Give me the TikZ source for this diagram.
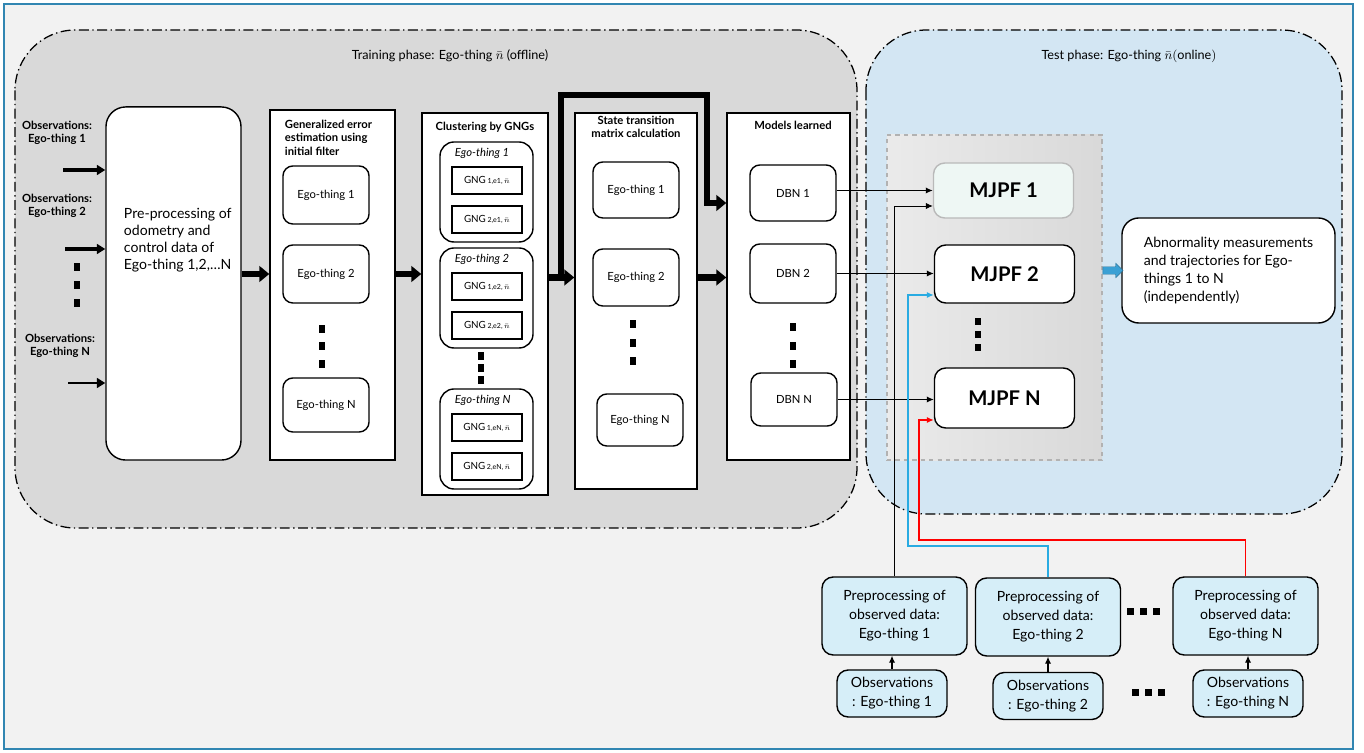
\documentclass[tikz,border=0pt]{standalone}
\usepackage{fontspec}
\setmainfont{Lato}
\usetikzlibrary{positioning,arrows.meta,shapes.arrows}
\definecolor{frameblue}{RGB}{49,134,178}
\definecolor{outerfill}{RGB}{242,242,242}
\definecolor{trainfill}{RGB}{217,217,217}
\definecolor{testfill}{RGB}{211,230,243}
\definecolor{obsfill}{RGB}{214,238,248}
\definecolor{mintfill}{RGB}{238,247,244}
\definecolor{linkcyan}{RGB}{41,171,226}
\definecolor{arrowblue}{RGB}{58,160,212}

\begin{document}
\begin{tikzpicture}[x=0.025cm,y=-0.025cm,
  phase/.style={line width=0.9pt,dash pattern=on 7pt off 2.5pt on 1pt off 2.5pt,rounded corners=43pt},
  column/.style={draw,line width=1pt,fill=white,inner sep=0pt},
  rbox/.style={draw,line width=1pt,fill=white,rounded corners=7pt,inner sep=0pt,minimum width=2.15cm,font=\footnotesize},
  group/.style={draw,line width=1pt,rounded corners=10pt,inner sep=0pt,minimum width=2.325cm,minimum height=2.5cm},
  gng/.style={draw,line width=1pt,inner sep=0pt,minimum width=1.75cm,minimum height=0.675cm,font=\scriptsize},
  title/.style={font=\footnotesize\bfseries,align=center},
  bigarrow/.style={line width=4.5pt,-{Triangle[length=7pt,width=11pt]}},
  inarrow/.style={line width=2.2pt,-{Triangle[length=6pt,width=7pt]}},
  thin/.style={line width=0.8pt,-{Latex[length=5pt,width=4.5pt]}},
  mjpf/.style={draw,line width=1pt,fill=white,rounded corners=8pt,inner sep=0pt,minimum width=3.5cm,font=\Large\bfseries},
  obsbox/.style={draw,line width=1pt,fill=obsfill,rounded corners=8pt,inner sep=0pt,align=center,font=\fontsize{10}{13.5}\selectfont}
]
\useasboundingbox (0,0) rectangle (1364,753);
\draw[frameblue,line width=1.5pt,fill=outerfill] (4,4) rectangle (1353,749);

% the two phases
\draw[phase,fill=trainfill] (15,30) rectangle (857,528);
\draw[phase,fill=testfill] (866,30) rectangle (1342,514);
\node (trainTitle) at (450,56) {\small Training phase: Ego-thing $\bar{n}$ (offline)};
\node (testTitle) at (1129,56) {\small Test phase: Ego-thing $\bar{n}(\mathrm{online})$};

% inputs
\node[title] (obs1) at (57,133) {Observations:\\Ego-thing 1};
\node[title] (obs2) at (57,206) {Observations:\\Ego-thing 2};
\node[title] (obsN) at (60,346) {Observations:\\Ego-thing N};
\node[draw,line width=1pt,fill=white,rounded corners=14pt,minimum width=3.375cm,minimum height=8.825cm] (prep) at (173.5,283.5) {};
\node[align=left,anchor=west] (prepText) at (119,240) {Pre-processing of\\odometry and\\control data of\\Ego-thing 1,2,\dots N};
\coordinate (in1) at (63,170);
\coordinate (in2) at (65,249);
\coordinate (inN) at (68,383);
\draw[inarrow] (in1) -- (in1 -| prep.west);
\draw[inarrow] (in2) -- (in2 -| prep.west);
\draw[inarrow,line width=1.6pt] (inN) -- (inN -| prep.west);
\foreach \y in {267,285,303}
  \fill (74,\y-4) rectangle (80,\y+4);

% generalized error
\node[column,minimum width=3.125cm,minimum height=8.75cm] (errCol) at (332.5,285) {};
\node[title,align=left,anchor=north west] (errTitle) at (280,115) {Generalized error\\estimation using\\initial filter};
\node[rbox,minimum height=1.45cm] (err1) at (326,195) {Ego-thing 1};
\node[rbox,minimum height=1.45cm] (err2) at (326,274) {Ego-thing 2};
\node[rbox,minimum height=1.35cm] (errN) at (326,405) {Ego-thing N};
\foreach \y in {329,346,364}
  \fill (319,\y-4) rectangle (325,\y+4);

% clustering
\node[column,minimum width=3.15cm,minimum height=9.55cm] (gngCol) at (485,304) {};
\node[title] (gngTitle) at (485,127) {Clustering by GNGs};
\foreach \n/\t in {1/142,2/248,N/389}
  {
    \node[group] (grp\n) at (486.5,{\t+50}) {};
    \node[font=\footnotesize\itshape,anchor=west] (grp\n label) at (450,{\t+11}) {Ego-thing \n};
    \node[gng] (gng1\n) at (487,{\t+38.5}) {GNG\,{\tiny 1,e\n,\,$\bar{n}$}};
    \node[gng] (gng2\n) at (487,{\t+77.5}) {GNG\,{\tiny 2,e\n,\,$\bar{n}$}};
  }
\foreach \y in {356,368,380}
  \fill (478,\y-4) rectangle (484,\y+4);

% state transition
\node[column,minimum width=3.05cm,minimum height=9.4cm] (stmCol) at (636,301) {};
\node[title] (stmTitle) at (636,127) {State transition\\matrix calculation};
\node[rbox,minimum height=1.4cm] (stm1) at (636,190) {Ego-thing 1};
\node[rbox,minimum height=1.425cm] (stm2) at (636,277.5) {Ego-thing 2};
\node[rbox,minimum height=1.3cm] (stmN) at (640,420) {Ego-thing N};
\foreach \y in {324,343,361}
  \fill (630,\y-4) rectangle (636,\y+4);

% models
\node[column,minimum width=3.075cm,minimum height=8.675cm] (dbnCol) at (788.5,286.5) {};
\node[title] (dbnTitle) at (793,125) {Models learned};
\node[rbox,minimum height=1.4cm] (dbn1) at (793,193) {DBN 1};
\node[rbox,minimum height=1.475cm] (dbn2) at (793,273.5) {DBN 2};
\node[rbox,minimum height=1.325cm] (dbnN) at (794,399.5) {DBN N};
\foreach \y in {327,346,364}
  \fill (790,\y-4) rectangle (796,\y+4);

% thick flow
\draw[bigarrow] (prep.east |- err2) -- (errCol.west |- err2);
\draw[bigarrow] (errCol.east |- err2) -- (gngCol.west |- err2);
\draw[bigarrow] (gngCol.east |- stm2) -- (stmCol.west |- stm2);
\draw[bigarrow] (stmCol.east |- stm2) -- (dbnCol.west |- stm2);
\coordinate (split) at (561,277.5);
\coordinate (bend) at (707,95);
\draw[bigarrow] (split) |- (bend) |- (dbnCol.west |- 0,203);

% test phase
\node[draw=gray!60,dashed,line width=1pt,inner sep=0pt,minimum width=5.375cm,minimum height=8.125cm,left color=gray!16,right color=gray!30] (mjpfArea) at (994.5,297.5) {};
\node[mjpf,draw=gray!55,fill=mintfill,minimum height=1.375cm] (mjpf1) at (1003.5,190.5) {MJPF 1};
\node[mjpf,minimum height=1.45cm] (mjpf2) at (1004.5,274) {MJPF 2};
\node[mjpf,minimum height=1.5cm] (mjpfN) at (1004.5,398) {MJPF N};
\foreach \y in {322,335,348}
  \fill (975,\y-3.5) rectangle (981,\y+3.5);
\draw[thin] (dbn1.east |- mjpf1.west) -- (mjpf1.west);
\draw[thin] (dbn2.east) -- (dbn2.east -| mjpf2.west);
\draw[thin] (dbnN.east) -- (dbnN.east -| mjpfN.west);

\node[draw,line width=1pt,fill=white,rounded corners=12pt,inner sep=0pt,minimum width=5.325cm,minimum height=2.625cm,align=left,font=\fontsize{10}{13}\selectfont] (abn) at (1228.5,270.5) {Abnormality measurements\\and trajectories for Ego-\\things 1 to N\\(independently)};
\node[single arrow,fill=arrowblue,draw=arrowblue!70!black,line width=0.3pt,inner sep=2.5pt,minimum height=0.5cm,single arrow head extend=2.5pt,anchor=west] (outArrow) at (mjpfArea.east |- abn.west) {};

% online inputs
\node[obsbox,minimum width=3.625cm,minimum height=1.95cm] (pre1) at (894.5,616) {Preprocessing of\\observed data:\\Ego-thing 1};
\node[obsbox,minimum width=3.625cm,minimum height=1.95cm] (pre2) at (1048,617) {Preprocessing of\\observed data:\\Ego-thing 2};
\node[obsbox,minimum width=3.625cm,minimum height=1.95cm] (preN) at (1245.5,616) {Preprocessing of\\observed data:\\Ego-thing N};
\node[obsbox,minimum width=2.75cm,minimum height=1.175cm] (on1) at (892,693.5) {Observations\\: Ego-thing 1};
\node[obsbox,minimum width=2.75cm,minimum height=1.175cm] (on2) at (1048,696) {Observations\\: Ego-thing 2};
\node[obsbox,minimum width=2.75cm,minimum height=1.175cm] (onN) at (1248,693.5) {Observations\\: Ego-thing N};
\draw[thin] (on1.north) -- (on1.north |- pre1.south);
\draw[thin] (on2.north) -- (on2.north |- pre2.south);
\draw[thin] (onN.north) -- (onN.north |- preN.south);
\foreach \x in {1130,1143,1156}
  \fill (\x-3.5,608.5) rectangle (\x+3.5,615.5);
\foreach \x in {1135,1148,1161}
  \fill (\x-3.5,689.5) rectangle (\x+3.5,696.5);

% links to the filters
\draw[thin,line width=0.6pt] (pre1.north) |- (mjpf1.west |- 0,206);
\draw[thin,linkcyan,line width=1.2pt] (pre2.north) |- (908,546) |- (mjpf2.west |- 0,295);
\draw[thin,red,line width=1.2pt] (preN.north) |- (919,540) |- (mjpfN.west |- 0,420);
\end{tikzpicture}
\end{document}
